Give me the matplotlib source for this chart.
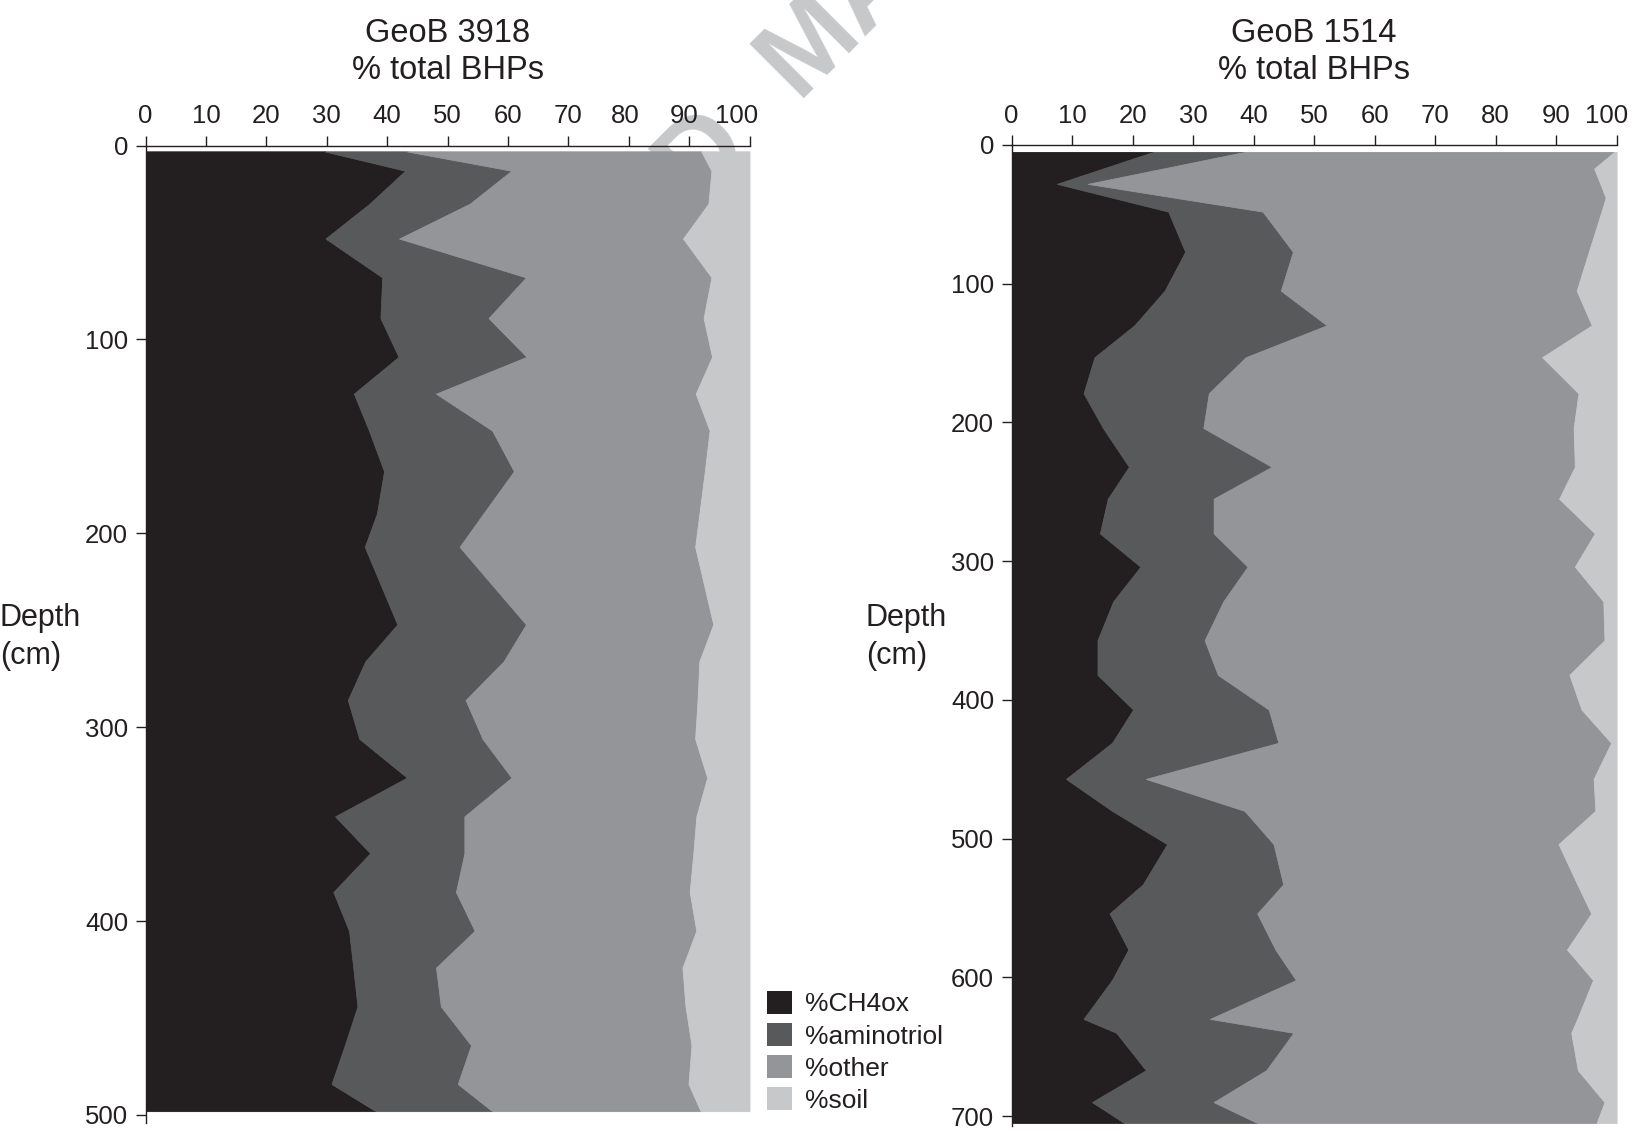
import numpy as np
import matplotlib
matplotlib.use("Agg")
import matplotlib.pyplot as plt
import matplotlib.transforms as mtransforms
from matplotlib.patches import Patch

# ---------------- data ----------------
series_names = ["%CH4ox", "%aminotriol", "%other", "%soil"]
series_colors = ["#231f20", "#58595b", "#939598", "#c7c8ca"]

# GeoB 3918 (depth in cm, values in % of total BHPs)
depth_3918 = [3, 13, 30, 48, 68, 89, 109, 128, 147, 168, 190, 207, 247, 266,
              286, 306, 326, 346, 365, 385, 405, 424, 444, 464, 484, 498]
ch4ox_3918 = [29.6, 43.0, 37.1, 29.8, 39.2, 38.9, 41.9, 34.5, 37.0, 39.5, 38.3,
              36.3, 41.7, 36.4, 33.5, 35.4, 43.3, 31.4, 37.2, 31.1, 33.7, 34.4,
              35.1, 33.0, 30.8, 38.1]
aminotriol_3918 = [13.6, 17.6, 16.6, 12.2, 23.8, 17.9, 21.2, 13.6, 20.4, 21.5,
                   17.6, 15.7, 21.3, 22.9, 19.5, 20.4, 17.3, 21.4, 15.6, 20.3,
                   20.8, 13.7, 13.8, 20.9, 20.9, 19.3]
other_3918 = [48.8, 33.1, 39.5, 47.0, 30.7, 35.6, 30.7, 43.0, 36.0, 31.6, 35.8,
              39.0, 31.0, 32.4, 38.4, 35.2, 32.4, 38.4, 37.9, 38.7, 36.7, 40.8,
              40.5, 36.5, 38.2, 34.5]
soil_3918 = [8.0, 6.3, 6.8, 11.0, 6.3, 7.6, 6.2, 8.9, 6.6, 7.4, 8.3, 9.0, 6.0,
             8.3, 8.6, 9.0, 7.0, 8.8, 9.3, 9.9, 8.8, 11.1, 10.6, 9.6, 10.1, 8.1]

# GeoB 1514
depth_1514 = [5, 17, 28, 38, 48, 77, 105, 130, 153, 179, 204, 232, 255, 280,
              304, 329, 357, 382, 407, 431, 457, 480, 504, 533, 554, 580, 602,
              630, 640, 667, 690, 705]
ch4ox_1514 = [23.4, 15.1, 7.5, 16.7, 25.9, 28.7, 25.3, 20.3, 13.7, 11.9, 15.1,
              19.4, 15.9, 14.6, 21.3, 16.8, 14.2, 14.2, 20.1, 16.6, 9.0, 16.6,
              25.7, 21.7, 16.2, 19.3, 16.6, 11.9, 17.3, 22.2, 13.3, 18.6]
aminotriol_1514 = [15.1, 9.9, 5.1, 10.3, 15.6, 17.8, 19.2, 31.8, 25.0, 20.7,
                   16.6, 23.6, 17.5, 18.8, 17.7, 18.2, 17.7, 19.9, 22.4, 27.5,
                   13.2, 21.9, 17.6, 23.2, 24.4, 24.3, 30.4, 20.9, 29.3, 19.9,
                   20.1, 22.0]
other_1514 = [61.1, 71.3, 84.7, 71.2, 56.0, 48.9, 48.9, 43.8, 49.0, 61.1, 61.2,
              50.1, 57.1, 63.0, 54.1, 62.8, 66.1, 58.1, 51.7, 55.0, 74.0, 58.0,
              47.1, 48.6, 55.2, 48.2, 49.1, 60.7, 45.9, 51.5, 64.6, 56.1]
soil_1514 = [0.4, 3.7, 2.7, 1.8, 2.5, 4.6, 6.6, 4.1, 12.3, 6.3, 7.1, 6.9, 9.5,
             3.6, 6.9, 2.2, 2.0, 7.8, 5.8, 0.9, 3.8, 3.5, 9.6, 6.5, 4.2, 8.2,
             3.9, 6.5, 7.5, 6.4, 2.0, 3.3]

x_ticks = [0, 10, 20, 30, 40, 50, 60, 70, 80, 90, 100]
y_ticks_3918 = [0, 100, 200, 300, 400, 500]
y_ticks_1514 = [0, 100, 200, 300, 400, 500, 600, 700]
title_3918 = "GeoB 3918\n% total BHPs"
title_1514 = "GeoB 1514\n% total BHPs"
depth_label = "Depth\n(cm)"

# ---------------- style ----------------
FONT = ["Liberation Sans", "DejaVu Sans"]
INK = "#231f20"
plt.rcParams["font.family"] = FONT

W, H = 1632, 1135
fig = plt.figure(figsize=(W / 100, H / 100), dpi=100)

# watermark (behind the chart)
wm_kw = dict(fontsize=80, fontweight="bold", color="#c7c8ca", rotation=45,
             rotation_mode="anchor", va="baseline", family=FONT, zorder=-5)
fig.text(754 / W, 1 - 149 / H, "ACCEPTED", ha="right", **wm_kw)
fig.text(797 / W, 1 - 98 / H, "MANUSCRIPT", ha="left", **wm_kw)


def panel(rect, depth, comps, yticks, ybottom, title, title_y, label_shift):
    ax = fig.add_axes(rect)
    ax.set_facecolor("none")
    d = np.asarray(depth, dtype=float)
    cum = np.cumsum(np.asarray(comps, dtype=float), axis=0)
    prev = np.zeros_like(d)
    for k in range(len(comps)):
        ax.fill_betweenx(d, prev, cum[k], facecolor=series_colors[k],
                         edgecolor=series_colors[k], linewidth=0.6, zorder=1)
        prev = cum[k]
    ax.set_xlim(0, 100)
    ax.set_ylim(ybottom, 0)
    ax.xaxis.set_ticks_position("top")
    ax.set_xticks(x_ticks)
    ax.set_yticks(yticks)
    for s in ("right", "bottom"):
        ax.spines[s].set_visible(False)
    for s in ("top", "left"):
        ax.spines[s].set_color(INK)
        ax.spines[s].set_linewidth(1.0)
        ax.spines[s].set_zorder(3)
    ax.tick_params(axis="both", direction="out", length=7.5, width=1.0,
                   colors=INK, labelcolor=INK, labelsize=18.5)
    ax.tick_params(axis="x", pad=5)
    ax.tick_params(axis="y", pad=5)
    # the printed figure nudges the last top labels a little to the left
    for val, tick in zip(x_ticks, ax.xaxis.get_major_ticks()):
        if val in label_shift:
            off = mtransforms.ScaledTranslation(label_shift[val] / 100, 0,
                                                fig.dpi_scale_trans)
            tick.label2.set_transform(tick.label2.get_transform() + off)
    pos = ax.get_position()
    fig.text((pos.x0 + pos.x1) / 2, title_y, title, ha="center", va="center",
             fontsize=23.5, color=INK, linespacing=1.25)
    return ax


# left panel: 0% at x=145.5 px, 100% at 749.5 px; depth 0 at y=145.5, 500 at 1115
l_top, l_scale = 145.5, (1115 - 145.5) / 500
l_bot = l_top + 504 * l_scale
ax1 = panel([145.5 / W, 1 - l_bot / H, 604 / W, (l_bot - l_top) / H],
            depth_3918, [ch4ox_3918, aminotriol_3918, other_3918, soil_3918],
            y_ticks_3918, 504, title_3918, 1 - 52 / H,
            {80: -3, 90: -5, 100: -13})

# right panel: 0% at x=1011.6, 100% at 1616.5; depth 0 at y=145, 700 at 1116
r_top, r_scale = 145.0, (1116 - 145.0) / 700
r_bot = r_top + 707 * r_scale
ax2 = panel([1011.6 / W, 1 - r_bot / H, 605 / W, (r_bot - r_top) / H],
            depth_1514, [ch4ox_1514, aminotriol_1514, other_1514, soil_1514],
            y_ticks_1514, 707, title_1514, 1 - 52 / H,
            {100: -10})

# depth labels
fig.text(0 / W, 1 - 637 / H, depth_label, ha="left", va="center",
         fontsize=22, color=INK, linespacing=1.32)
fig.text(866 / W, 1 - 637 / H, depth_label, ha="left", va="center",
         fontsize=22, color=INK, linespacing=1.32)

# legend
handles = [Patch(facecolor=c, edgecolor="none", label=n)
           for c, n in zip(series_colors, series_names)]
fig.legend(handles=handles, loc="upper left",
           bbox_to_anchor=(767 / W, 1 - 991 / H), frameon=False,
           prop={"family": FONT, "size": 19}, labelcolor=INK,
           handlelength=0.95, handleheight=0.95, handletextpad=0.5,
           labelspacing=0.25, borderpad=0, borderaxespad=0)

fig.savefig("out.png", dpi=100, facecolor="white")
